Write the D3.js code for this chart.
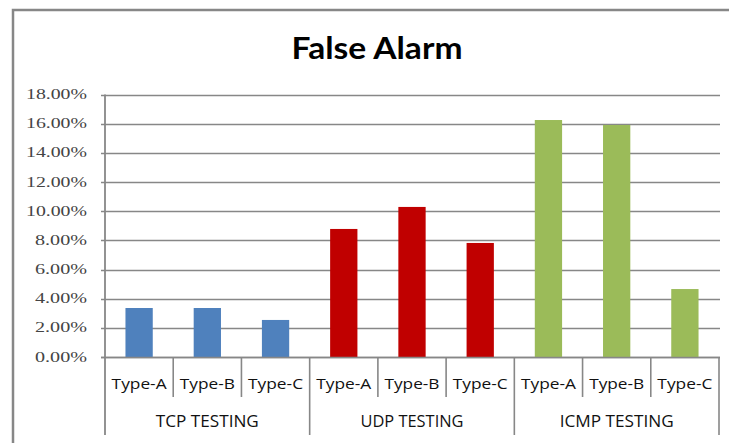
<!DOCTYPE html>
<html>
<head>
<meta charset="utf-8">
<script src="https://cdn.jsdelivr.net/npm/d3@7"></script>
<style>
  html, body { margin: 0; padding: 0; background: #fff; }
  svg { display: block; }
</style>
</head>
<body>
<svg id="chart" width="729" height="443"></svg>
<script>
// ---- data ----
const title = "False Alarm";
const groups = ["TCP TESTING", "UDP TESTING", "ICMP TESTING"];
const types = ["Type-A", "Type-B", "Type-C"];
const tcpValues = [0.0336, 0.0336, 0.0254];
const udpValues = [0.0878, 0.1029, 0.0782];
const icmpValues = [0.1625, 0.1591, 0.0466];
const groupColors = ["#4F81BD", "#C00000", "#9BBB59"];
const yTicks = [0, 0.02, 0.04, 0.06, 0.08, 0.10, 0.12, 0.14, 0.16, 0.18];

const seriesValues = [tcpValues, udpValues, icmpValues];
const rows = [];
groups.forEach((g, gi) => types.forEach((t, ti) => {
  rows.push({ key: g + "|" + t, group: g, type: t, value: seriesValues[gi][ti], color: groupColors[gi] });
}));

// ---- layout ----
const svg = d3.select("#chart");
const plotLeft = 105, plotRight = 719, plotTop = 94.5, plotBottom = 357;
const axisBottom = 435, catSepBottom = 397;
const gridColor = "#878787";

// outer chart border (right and bottom edges fall outside the picture)
svg.append("rect")
  .attr("x", 13).attr("y", 10)
  .attr("width", 740).attr("height", 460)
  .attr("fill", "none").attr("stroke", gridColor).attr("stroke-width", 2.5);

// title
svg.append("text")
  .attr("x", 377).attr("y", 59)
  .attr("text-anchor", "middle")
  .attr("font-family", "Lato, 'Open Sans', sans-serif")
  .attr("font-weight", "bold")
  .attr("font-size", 30)
  .attr("textLength", 171).attr("lengthAdjust", "spacingAndGlyphs")
  .attr("fill", "#000")
  .text(title);

const x = d3.scaleBand().domain(rows.map(d => d.key)).range([plotLeft, plotRight]).paddingInner(0.6).paddingOuter(0.3);
const xg = d3.scaleBand().domain(groups).range([plotLeft, plotRight]);
const y = d3.scaleLinear().domain([0, 0.18]).range([plotBottom, plotTop]);

// gridlines + left tick marks
svg.append("g").selectAll("line").data(yTicks).join("line")
  .attr("x1", plotLeft - 4).attr("x2", plotRight + 1)
  .attr("y1", d => Math.round(y(d)) + 0.5).attr("y2", d => Math.round(y(d)) + 0.5)
  .attr("stroke", gridColor).attr("stroke-width", 1.6);

// y tick labels
svg.append("g").selectAll("text").data(yTicks).join("text")
  .attr("x", 87).attr("y", d => y(d) + 4.5)
  .attr("text-anchor", "end")
  .attr("font-family", "'Liberation Serif', 'DejaVu Serif', serif")
  .attr("font-size", 14)
  .attr("textLength", d => d >= 0.1 ? 61 : 52)
  .attr("lengthAdjust", "spacingAndGlyphs")
  .attr("fill", "#444")
  .text(d => d3.format(".2%")(d));

// bars
svg.append("g").selectAll("rect").data(rows).join("rect")
  .attr("x", d => x(d.key))
  .attr("width", x.bandwidth())
  .attr("y", d => y(d.value))
  .attr("height", d => y(0) - y(d.value))
  .attr("fill", d => d.color);

// redraw baseline over bars
svg.append("line")
  .attr("x1", plotLeft - 4).attr("x2", plotRight + 1)
  .attr("y1", Math.round(y(0)) + 0.5).attr("y2", Math.round(y(0)) + 0.5)
  .attr("stroke", gridColor).attr("stroke-width", 1.6);

// y axis line
svg.append("line")
  .attr("x1", plotLeft).attr("x2", plotLeft)
  .attr("y1", plotTop).attr("y2", axisBottom)
  .attr("stroke", gridColor).attr("stroke-width", 1.8);

// category separators (short)
const step = x.step();
const catEdges = d3.range(rows.length + 1).map(i => plotLeft + i * step);
svg.append("g").selectAll("line").data(catEdges.filter((d, i) => i % 3 !== 0)).join("line")
  .attr("x1", d => d).attr("x2", d => d)
  .attr("y1", plotBottom).attr("y2", catSepBottom)
  .attr("stroke", gridColor).attr("stroke-width", 1.6);

// group separators (long)
svg.append("g").selectAll("line").data(groups.map(g => xg(g) + xg.bandwidth())).join("line")
  .attr("x1", d => d).attr("x2", d => d)
  .attr("y1", plotBottom).attr("y2", axisBottom)
  .attr("stroke", gridColor).attr("stroke-width", 1.6);

// category labels
svg.append("g").selectAll("text").data(rows).join("text")
  .attr("x", d => x(d.key) + x.bandwidth() / 2)
  .attr("y", 389)
  .attr("text-anchor", "middle")
  .attr("font-family", "'Open Sans', 'Liberation Sans', sans-serif")
  .attr("font-size", 15)
  .attr("textLength", 55).attr("lengthAdjust", "spacingAndGlyphs")
  .attr("fill", "#111")
  .text(d => d.type);

// group labels
svg.append("g").selectAll("text").data(groups).join("text")
  .attr("x", d => xg(d) + xg.bandwidth() / 2)
  .attr("y", 427)
  .attr("text-anchor", "middle")
  .attr("font-family", "'Open Sans', 'Liberation Sans', sans-serif")
  .attr("font-size", 16)
  .attr("textLength", d => d === "ICMP TESTING" ? 114 : 103)
  .attr("lengthAdjust", "spacingAndGlyphs")
  .attr("fill", "#111")
  .text(d => d);
</script>
</body>
</html>
